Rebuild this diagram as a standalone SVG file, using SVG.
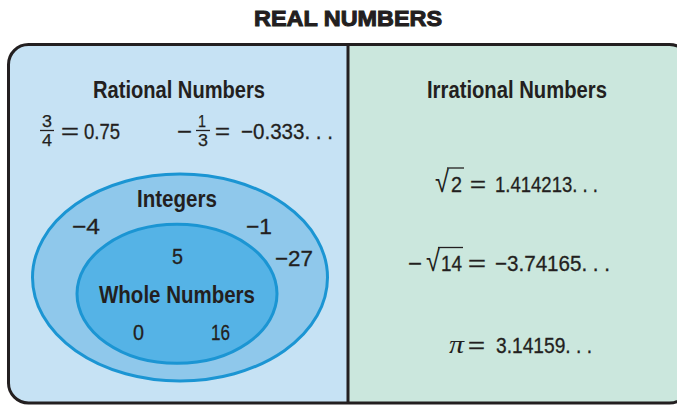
<svg xmlns="http://www.w3.org/2000/svg" width="677" height="405" viewBox="0 0 677 405">
<style>
text{fill:#231f20;font-family:"Liberation Sans Narrow","Liberation Sans",Arial,sans-serif}
.h{font-weight:bold;font-size:23px}
.t{font-family:"Liberation Sans",Arial,sans-serif;font-weight:900;font-size:22px}
.n{font-size:22px;stroke:#231f20;stroke-width:0.3}
.f{font-size:17px;stroke:#231f20;stroke-width:0.25}
.rt{font-size:30px}
.pi{font-family:"Liberation Serif","Times New Roman",serif;font-style:italic;font-size:25px}
.bar{stroke:#231f20;stroke-width:1.3}
.ell{stroke:#1b95d3;stroke-width:3}
</style>
<g id="title">
<text class="t" x="254" y="26" textLength="188" lengthAdjust="spacingAndGlyphs" stroke="#231f20" stroke-width="1">REAL NUMBERS</text>
</g>
<g id="real-numbers">
<path d="M348,44 H28 A20,20 0 0 0 8,64 V383 A20,20 0 0 0 28,403 H348 Z" fill="#c6e2f4"/>
<path d="M348,44 H670 A20,20 0 0 1 690,64 V383 A20,20 0 0 1 670,403 H348 Z" fill="#cbe7dd"/>
<rect x="8.5" y="44.5" width="681" height="358.5" rx="20" fill="none" stroke="#231f20" stroke-width="3"/>
<line x1="348" y1="44" x2="348" y2="403" stroke="#231f20" stroke-width="3"/>
</g>
<g id="rational">
<text class="h" x="93" y="98" textLength="172" lengthAdjust="spacingAndGlyphs">Rational Numbers</text>
<text class="f" x="42" y="127" textLength="10" lengthAdjust="spacingAndGlyphs">3</text>
<line class="bar" x1="40" y1="130.5" x2="54" y2="130.5"/>
<text class="f" x="42" y="146" textLength="10" lengthAdjust="spacingAndGlyphs">4</text>
<text class="n" x="61" y="139" textLength="18" lengthAdjust="spacingAndGlyphs">=</text>
<text class="n" x="84" y="139" textLength="36" lengthAdjust="spacingAndGlyphs">0.75</text>
<text class="n" x="177" y="139" textLength="15" lengthAdjust="spacingAndGlyphs">−</text>
<text class="f" x="198" y="127" textLength="8" lengthAdjust="spacingAndGlyphs">1</text>
<line class="bar" x1="196" y1="130.5" x2="210" y2="130.5"/>
<text class="f" x="198" y="146" textLength="10" lengthAdjust="spacingAndGlyphs">3</text>
<text class="n" x="215" y="139" textLength="15" lengthAdjust="spacingAndGlyphs">=</text>
<text class="n" x="241" y="139" textLength="92" lengthAdjust="spacingAndGlyphs">−0.333. . .</text>
</g>
<g id="integers">
<ellipse class="ell" cx="180" cy="277.5" rx="147.5" ry="103.5" fill="#8fc8eb"/>
<text class="h" x="137" y="207" textLength="80" lengthAdjust="spacingAndGlyphs">Integers</text>
<text class="n" x="72" y="234" textLength="28" lengthAdjust="spacingAndGlyphs">−4</text>
<text class="n" x="246" y="234" textLength="26" lengthAdjust="spacingAndGlyphs">−1</text>
<text class="n" x="275" y="266" textLength="38" lengthAdjust="spacingAndGlyphs">−27</text>
</g>
<g id="whole-numbers">
<ellipse class="ell" cx="177" cy="293.8" rx="100" ry="69.5" fill="#55b3e6"/>
<text class="n" x="172" y="264" textLength="11" lengthAdjust="spacingAndGlyphs">5</text>
<text class="h" x="99" y="303" textLength="156" lengthAdjust="spacingAndGlyphs">Whole Numbers</text>
<text class="n" x="133" y="340" textLength="11" lengthAdjust="spacingAndGlyphs">0</text>
<text class="n" x="211" y="340" textLength="19" lengthAdjust="spacingAndGlyphs">16</text>
</g>
<g id="irrational">
<text class="h" x="427" y="98" textLength="180" lengthAdjust="spacingAndGlyphs">Irrational Numbers</text>
<text class="rt" x="435" y="192" textLength="14" lengthAdjust="spacingAndGlyphs">√</text>
<line class="bar" x1="447" y1="168" x2="464" y2="168"/>
<text class="n" x="451" y="192" textLength="11" lengthAdjust="spacingAndGlyphs">2</text>
<text class="n" x="470" y="192" textLength="16" lengthAdjust="spacingAndGlyphs">=</text>
<text class="n" x="495" y="192" textLength="103" lengthAdjust="spacingAndGlyphs">1.414213. . .</text>
<text class="n" x="408" y="271" textLength="14" lengthAdjust="spacingAndGlyphs">−</text>
<text class="rt" x="426" y="271" textLength="14" lengthAdjust="spacingAndGlyphs">√</text>
<line class="bar" x1="438" y1="247.5" x2="463" y2="247.5"/>
<text class="n" x="441" y="271" textLength="21" lengthAdjust="spacingAndGlyphs">14</text>
<text class="n" x="468" y="271" textLength="18" lengthAdjust="spacingAndGlyphs">=</text>
<text class="n" x="495" y="271" textLength="115" lengthAdjust="spacingAndGlyphs">−3.74165. . .</text>
<text class="pi" x="449" y="353" textLength="15" lengthAdjust="spacingAndGlyphs">π</text>
<text class="n" x="468" y="353" textLength="17" lengthAdjust="spacingAndGlyphs">=</text>
<text class="n" x="496" y="353" textLength="96" lengthAdjust="spacingAndGlyphs">3.14159. . .</text>
</g>
</svg>
